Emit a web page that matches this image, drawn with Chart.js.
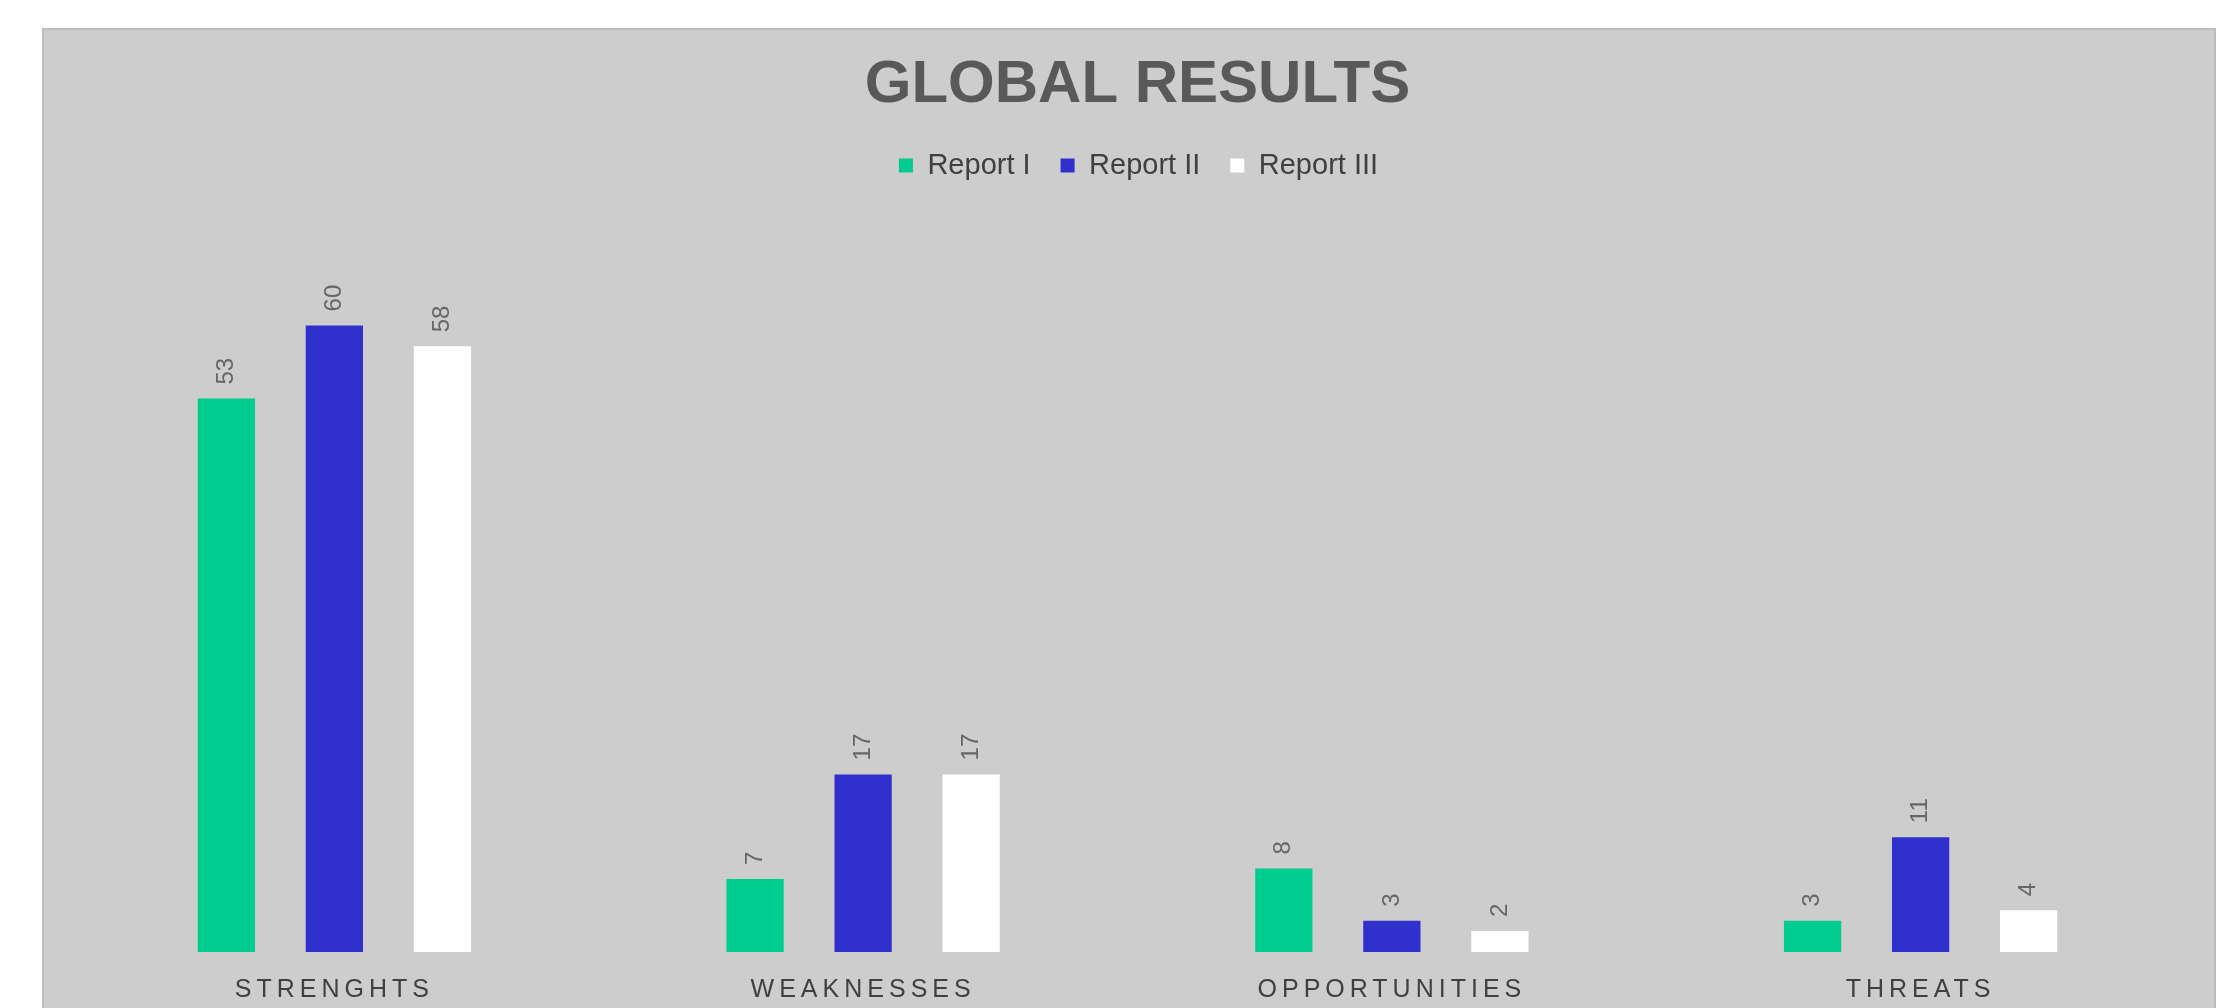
<!DOCTYPE html>
<html>
<head>
<meta charset="utf-8">
<script src="https://cdn.jsdelivr.net/npm/chart.js@4/dist/chart.umd.min.js"></script>
<style>
  html, body { margin: 0; padding: 0; background: #ffffff; width: 2238px; height: 1008px; overflow: hidden; }
  #wrap { position: absolute; left: 42px; top: 28px; width: 2174px; height: 980px;
          background: #cdcdcd; box-sizing: border-box; border-top: 2px solid #bdbdbd; border-left: 2px solid #bdbdbd; border-right: 2px solid #bdbdbd; }
  canvas { position: absolute; left: 0; top: 0; }
</style>
</head>
<body>
<div id="wrap"><canvas id="c" width="2170" height="978"></canvas></div>
<script>
const categories = ['STRENGHTS', 'WEAKNESSES', 'OPPORTUNITIES', 'THREATS'];
const seriesNames = ['Report I', 'Report II', 'Report III'];
const report1 = [53, 7, 8, 3];
const report2 = [60, 17, 3, 11];
const report3 = [58, 17, 2, 4];
const seriesColors = ['#00cc8f', '#3030cc', '#ffffff'];
const yMax = 70;

const FONT = "'Liberation Sans', Arial, sans-serif";

function shiftDraw(box, dx) {
  if (!box) return;
  const draw = box.draw;
  box.draw = function () {
    const ctx = this.ctx;
    ctx.save();
    ctx.translate(dx, 0);
    draw.apply(this, arguments);
    ctx.restore();
  };
}

const legendGap = {
  id: 'legendGap',
  beforeInit(chart) {
    const lg = chart.legend;
    if (lg) {
      const fit = lg.fit;
      lg.fit = function () { fit.call(this); this.height += 31; };
      shiftDraw(lg, 11);
    }
    shiftDraw(chart.titleBlock, 10);
  }
};

const spacedTicks = {
  id: 'spacedTicks',
  afterLayout(chart) {
    const s = chart.scales.x;
    if (!s || s._spacedPatched) return;
    const orig = s.drawLabels;
    s.drawLabels = function (ca) {
      const ctx = this.ctx;
      const prev = ctx.letterSpacing;
      ctx.letterSpacing = '5px';
      orig.call(this, ca);
      ctx.letterSpacing = prev || '0px';
    };
    s._spacedPatched = true;
  }
};

const valueLabels = {
  id: 'valueLabels',
  afterDatasetsDraw(chart) {
    const ctx = chart.ctx;
    ctx.save();
    ctx.font = '24px ' + FONT;
    ctx.fillStyle = '#666666';
    ctx.textAlign = 'left';
    ctx.textBaseline = 'middle';
    chart.data.datasets.forEach((ds, di) => {
      const meta = chart.getDatasetMeta(di);
      meta.data.forEach((bar, i) => {
        ctx.save();
        ctx.translate(bar.x, bar.y - 14);
        ctx.rotate(-Math.PI / 2);
        ctx.fillText(String(ds.data[i]), 0, 0);
        ctx.restore();
      });
    });
    ctx.restore();
  }
};

const seriesData = [report1, report2, report3];

new Chart(document.getElementById('c'), {
  type: 'bar',
  data: {
    labels: categories,
    datasets: seriesNames.map((n, k) => ({
      label: n,
      data: seriesData[k],
      backgroundColor: seriesColors[k],
      borderWidth: 0,
      categoryPercentage: 0.613,
      barPercentage: 0.53
    }))
  },
  options: {
    responsive: false,
    animation: false,
    layout: { padding: { left: 26, right: 29, top: 0, bottom: 0 } },
    scales: {
      x: {
        grid: { display: false, drawTicks: false },
        border: { display: false },
        ticks: { color: '#404040', font: { family: FONT, size: 25 }, padding: 23, maxRotation: 0, autoSkip: false },
        afterFit(scale) { scale.height = 56; }
      },
      y: {
        display: false,
        min: 0,
        max: yMax,
        grid: { display: false }
      }
    },
    plugins: {
      title: {
        display: true,
        text: 'GLOBAL RESULTS',
        color: '#595959',
        font: { family: FONT, size: 60, weight: 'bold' },
        padding: { top: 19, bottom: 0 }
      },
      legend: {
        display: true,
        position: 'top',
        labels: {
          color: '#404040',
          font: { family: FONT, size: 29 },
          boxWidth: 14,
          boxHeight: 14,
          padding: 30
        }
      },
      tooltip: { enabled: false }
    }
  },
  plugins: [legendGap, spacedTicks, valueLabels]
});
</script>
</body>
</html>
